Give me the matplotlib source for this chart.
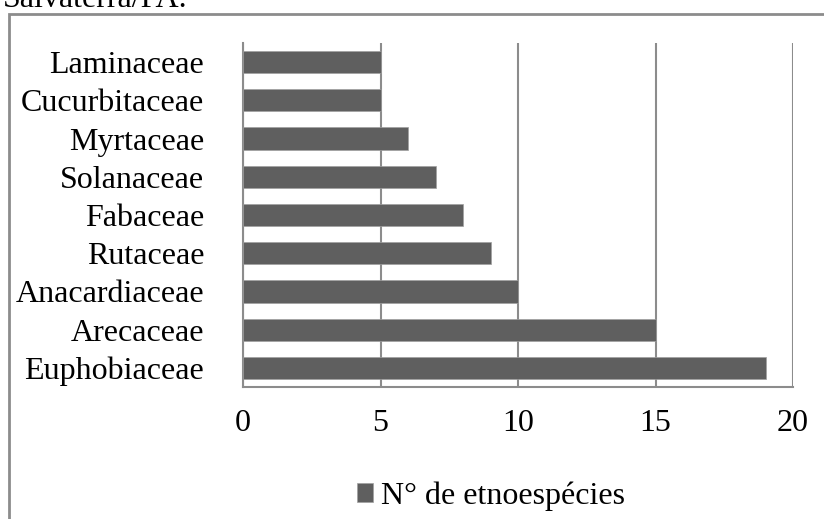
import matplotlib
matplotlib.use("Agg")
import matplotlib.pyplot as plt
from matplotlib.patches import Rectangle

plt.rcParams['font.family'] = ['Liberation Serif', 'DejaVu Serif']

familias = ['Euphobiaceae', 'Arecaceae', 'Anacardiaceae', 'Rutaceae', 'Fabaceae',
            'Solanaceae', 'Myrtaceae', 'Cucurbitaceae', 'Laminaceae']
n_especies = [19, 15, 10, 9, 8, 7, 6, 5, 5]
ticks_x = [0, 5, 10, 15, 20]

bar_color = '#5f5f5f'
grid_color = '#8c8c8c'
fs = 23

fig = plt.figure(figsize=(8.24, 5.19), dpi=100)

# caption line cut at the top edge, and the outer chart frame
fig.text(3 / 824, 1 - 7 / 519, 'Salvaterra/PA.', fontsize=fs, ha='left', va='baseline')
fig.patches.append(Rectangle((9 / 824, -0.05), 1.0, 1 - 14 / 519 + 0.05,
                             transform=fig.transFigure, fill=False,
                             edgecolor=grid_color, linewidth=2))

ax = fig.add_axes([243 / 824, 1 - 387 / 519, 550 / 824, 344 / 519])
ax.barh(range(len(familias)), n_especies, height=0.58, color=bar_color,
        edgecolor='#a0a0a0', linewidth=0.5, label='N° de etnoespécies', zorder=3)
ax.set_xlim(0, 20)
ax.set_ylim(-0.5, len(familias) - 0.5)
ax.set_xticks(ticks_x)
ax.set_yticks(range(len(familias)))
ax.set_yticklabels(familias)
ax.xaxis.grid(True, color=grid_color, linewidth=1.5)
ax.tick_params(axis='both', length=0, labelsize=fs)
ax.tick_params(axis='x', pad=16)
ax.tick_params(axis='y', pad=28)
for s in ['top', 'right']:
    ax.spines[s].set_visible(False)
for s in ['left', 'bottom']:
    ax.spines[s].set_color(grid_color)
    ax.spines[s].set_linewidth(1.5)

fig.legend(loc='center', bbox_to_anchor=(491 / 824, 1 - 496 / 519), frameon=False,
           fontsize=fs, handlelength=0.5, handleheight=0.5, handletextpad=0.25)

fig.savefig('out.png', dpi=100)
